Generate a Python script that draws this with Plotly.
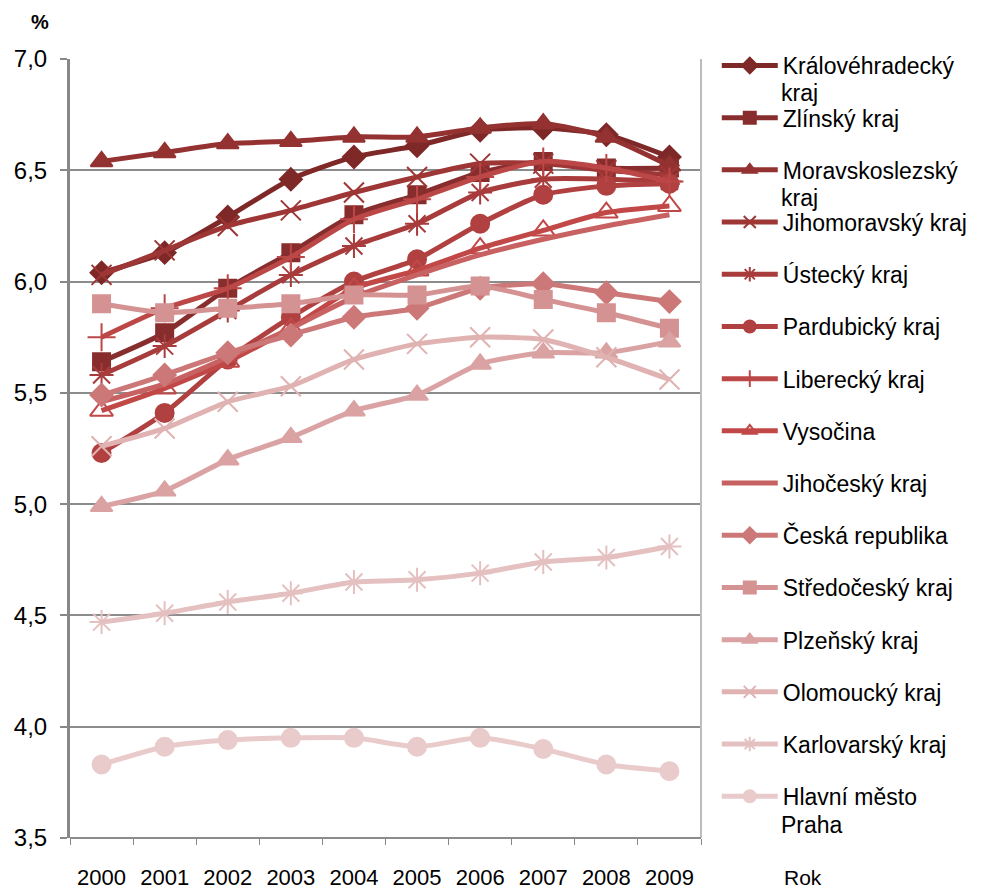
import plotly.graph_objects as go

years = ["2000", "2001", "2002", "2003", "2004", "2005", "2006", "2007", "2008", "2009"]

kralovehradecky = [6.04, 6.13, 6.29, 6.46, 6.56, 6.61, 6.68, 6.69, 6.66, 6.56]
zlinsky = [5.64, 5.77, 5.97, 6.13, 6.30, 6.39, 6.49, 6.54, 6.51, 6.51]
moravskoslezsky = [6.54, 6.58, 6.62, 6.63, 6.65, 6.65, 6.69, 6.71, 6.65, 6.52]
jihomoravsky = [6.03, 6.14, 6.25, 6.32, 6.40, 6.47, 6.53, 6.53, 6.50, 6.48]
ustecky = [5.58, 5.71, 5.87, 6.03, 6.16, 6.26, 6.40, 6.46, 6.46, 6.45]
pardubicky = [5.23, 5.41, 5.65, 5.84, 6.00, 6.10, 6.26, 6.39, 6.43, 6.44]
liberecky = [5.75, 5.88, 5.97, 6.11, 6.28, 6.37, 6.47, 6.54, 6.51, 6.45]
vysocina = [5.42, 5.52, 5.64, 5.79, 5.97, 6.05, 6.15, 6.23, 6.31, 6.34]
jihocesky = [5.46, 5.54, 5.66, 5.79, 5.93, 6.03, 6.12, 6.19, 6.25, 6.30]
ceska_republika = [5.49, 5.58, 5.68, 5.76, 5.84, 5.88, 5.97, 5.99, 5.95, 5.91]
stredocesky = [5.90, 5.86, 5.88, 5.90, 5.94, 5.94, 5.98, 5.92, 5.86, 5.79]
plzensky = [4.99, 5.06, 5.20, 5.30, 5.42, 5.49, 5.63, 5.68, 5.68, 5.73]
olomoucky = [5.26, 5.34, 5.46, 5.53, 5.65, 5.72, 5.75, 5.74, 5.66, 5.56]
karlovarsky = [4.47, 4.51, 4.56, 4.60, 4.65, 4.66, 4.69, 4.74, 4.76, 4.81]
praha = [3.83, 3.91, 3.94, 3.95, 3.95, 3.91, 3.95, 3.90, 3.83, 3.80]

# legend label: first line in the legend entry, wrapped continuation shown below it
series = [
    ("Královéhradecký", "kraj", kralovehradecky, "#7E2828", "diamond", 17),
    ("Zlínský kraj", None, zlinsky, "#882D2D", "square", 17),
    ("Moravskoslezský", "kraj", moravskoslezsky, "#943232", "triangle-up", 19),
    ("Jihomoravský kraj", None, jihomoravsky, "#9E3636", "x-thin-open", 20),
    ("Ústecký kraj", None, ustecky, "#A83B3B", "asterisk-open", 20),
    ("Pardubický kraj", None, pardubicky, "#B14141", "circle", 18),
    ("Liberecký kraj", None, liberecky, "#BC4747", "cross-thin-open", 20),
    ("Vysočina", None, vysocina, "#C24848", "triangle-up-open", 20),
    ("Jihočeský kraj", None, jihocesky, "#C86262", None, 0),
    ("Česká republika", None, ceska_republika, "#CD7878", "diamond", 17),
    ("Středočeský kraj", None, stredocesky, "#D59292", "square", 17),
    ("Plzeňský kraj", None, plzensky, "#DAA2A2", "triangle-up", 19),
    ("Olomoucký kraj", None, olomoucky, "#E0B2B2", "x-thin-open", 20),
    ("Karlovarský kraj", None, karlovarsky, "#E5C0C0", "asterisk-open", 20),
    ("Hlavní město", "Praha", praha, "#EACBCB", "circle", 18),
]

font_family = "Liberation Sans, Arial, sans-serif"

# legend geometry (pixels)
PLOT_L, PLOT_R, PLOT_T, PLOT_B = 70, 701, 59, 838
LEG_FIRST = 66.0      # centre of the first legend row
LEG_STEP = 52.3       # row spacing
LEG_TEXT_X = 780.0


def px_to_paper_x(px):
    return (px - PLOT_L) / (PLOT_R - PLOT_L)


def px_to_paper_y(py):
    return (PLOT_B - py) / (PLOT_B - PLOT_T)


fig = go.Figure()
annotations = []
for i, (name, cont, vals, color, sym, size) in enumerate(series):
    if sym is None:
        mode = "lines"
        marker = dict()
    else:
        mode = "lines+markers"
        marker = dict(symbol=sym, size=size, color=color,
                      line=dict(color=color, width=2))
    fig.add_trace(go.Scatter(
        x=years, y=vals, name=name, mode=mode,
        line=dict(color=color, width=5, shape="spline", smoothing=0.6),
        marker=marker, legendgroup=f"g{i}", cliponaxis=False,
    ))
    if cont:
        yc = LEG_FIRST + i * LEG_STEP + 27
        annotations.append(dict(
            text=cont, xref="paper", yref="paper",
            x=px_to_paper_x(LEG_TEXT_X), y=px_to_paper_y(yc),
            xanchor="left", yanchor="middle", showarrow=False, borderpad=0,
            font=dict(family=font_family, size=23, color="#000000"),
        ))

annotations += [
    dict(text="<b>%</b>", xref="paper", yref="paper", x=-0.048, y=1.048,
         xanchor="center", yanchor="middle", showarrow=False,
         font=dict(size=20, color="#000000")),
    dict(text="Rok", xref="paper", yref="paper", x=1.162, y=-0.051,
         xanchor="center", yanchor="middle", showarrow=False,
         font=dict(size=21, color="#000000")),
]

fig.update_layout(
    width=981, height=891,
    margin=dict(l=PLOT_L, r=981 - PLOT_R, t=PLOT_T, b=891 - PLOT_B, autoexpand=False),
    plot_bgcolor="white", paper_bgcolor="white",
    separators=", ",
    font=dict(family=font_family, size=22, color="#000000"),
    showlegend=True,
    legend=dict(
        y=px_to_paper_y(LEG_FIRST - 22), yanchor="top",
        x=1.025, xanchor="left",
        valign="top", tracegroupgap=19.3, itemwidth=56,
        itemsizing="constant", maxheight=870,
        font=dict(family=font_family, size=23, color="#000000"),
        bgcolor="rgba(0,0,0,0)",
    ),
    xaxis=dict(
        type="category", range=[-0.5, 9.5],
        showgrid=False, showline=False, zeroline=False,
        ticks="outside", tickson="boundaries", ticklen=6, tickcolor="#888888",
        ticklabelstandoff=24,
        tickfont=dict(size=22, color="#000000"),
    ),
    yaxis=dict(
        range=[3.5, 7.0], dtick=0.5, tickformat=".1f",
        showgrid=True, gridcolor="#8C8C8C", gridwidth=2,
        showline=True, linecolor="#888888", linewidth=3,
        ticks="outside", ticklen=7, tickcolor="#888888", tickwidth=2,
        ticklabelstandoff=8,
        zeroline=False,
        tickfont=dict(size=24, color="#000000"),
    ),
    shapes=[
        dict(type="line", xref="paper", yref="paper", x0=1, x1=1, y0=0, y1=1,
             line=dict(color="#BDBDBD", width=2)),
        dict(type="line", xref="paper", yref="paper", x0=0, x1=1, y0=0, y1=0,
             line=dict(color="#8C8C8C", width=2)),
    ],
    annotations=annotations,
)

fig.write_html(
    "out.html",
    config={"displayModeBar": False},
    post_script="document.body.style.margin='0';document.body.style.overflow='hidden';",
)
